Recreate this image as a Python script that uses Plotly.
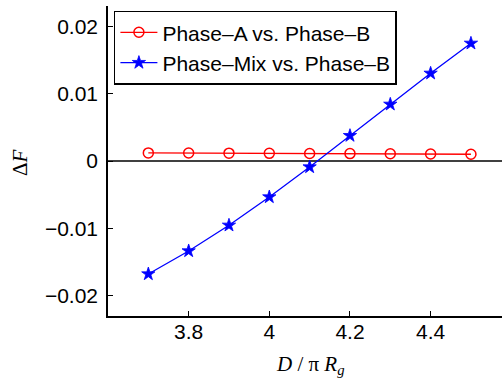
import plotly.graph_objects as go

x_vals = [3.7, 3.8, 3.9, 4.0, 4.1, 4.2, 4.3, 4.4, 4.5]
phase_a = [0.00120, 0.00118, 0.00116, 0.00114, 0.00112, 0.00110, 0.00107, 0.00104, 0.00100]
phase_mix = [-0.01677, -0.01335, -0.00954, -0.00534, -0.00089, 0.00376, 0.00841, 0.01301, 0.01746]
x_ticks = [3.8, 4.0, 4.2, 4.4]
x_ticktext = ["3.8", "4", "4.2", "4.4"]
y_ticks = [-0.02, -0.01, 0, 0.01, 0.02]
y_ticktext = ["\u22120.02", "\u22120.01", "0", "0.01", "0.02"]

font_main = "Liberation Sans, Arial, Helvetica, sans-serif"
font_math = "Liberation Serif, Times New Roman, serif"

fig = go.Figure()
fig.add_trace(go.Scatter(
    x=x_vals, y=phase_a, mode="lines+markers", name="Phase\u2013A vs. Phase\u2013B",
    line=dict(color="#ff0000", width=1.3),
    marker=dict(symbol="circle-open", size=10, color="#ff0000", line=dict(width=1.5)),
))
fig.add_trace(go.Scatter(
    x=x_vals, y=phase_mix, mode="lines+markers", name="Phase\u2013Mix vs. Phase\u2013B",
    line=dict(color="#0000ff", width=1.3),
    marker=dict(symbol="star", size=10, color="#0000ff", line=dict(width=0.8, color="#0000ff")),
))

fig.add_hline(y=0, line=dict(color="black", width=1.5), layer="below")

fig.update_layout(
    width=502, height=380,
    margin=dict(l=108, r=0, t=6, b=64),
    paper_bgcolor="white", plot_bgcolor="white",
    font=dict(family=font_main, size=21, color="black"),
    showlegend=True,
    legend=dict(
        x=0.015, y=0.985, xanchor="left", yanchor="top",
        bordercolor="black", borderwidth=1.5, bgcolor="white",
        font=dict(size=21), tracegroupgap=0, itemwidth=37,
    ),
    xaxis=dict(
        range=[3.6, 4.577], tickvals=x_ticks, ticktext=x_ticktext,
        showgrid=False, zeroline=False, showline=True, linecolor="black", linewidth=1.5,
        ticks="inside", ticklen=5, tickcolor="black", ticklabelstandoff=-4,
    ),
    yaxis=dict(
        range=[-0.023, 0.023], tickvals=y_ticks, ticktext=y_ticktext,
        showgrid=False, zeroline=False, showline=True, linecolor="black", linewidth=1.5,
        ticks="inside", ticklen=5, tickcolor="black", ticklabelstandoff=4,
    ),
    annotations=[
        dict(text="<i>D</i> / \u03c0 <i>R</i><sub><i>g</i></sub>", xref="paper", yref="paper",
             x=(310 - 108) / 394, y=-(365 - 316) / 310, xanchor="center", yanchor="middle",
             showarrow=False, font=dict(family=font_math, size=21)),
        dict(text="\u0394<i>F</i>", xref="paper", yref="paper",
             x=-(108 - 20) / 394, y=(316 - 163) / 310, xanchor="center", yanchor="middle",
             textangle=-90, showarrow=False,
             font=dict(family=font_math, size=21)),
    ],
)

fig.write_html("out.html")
